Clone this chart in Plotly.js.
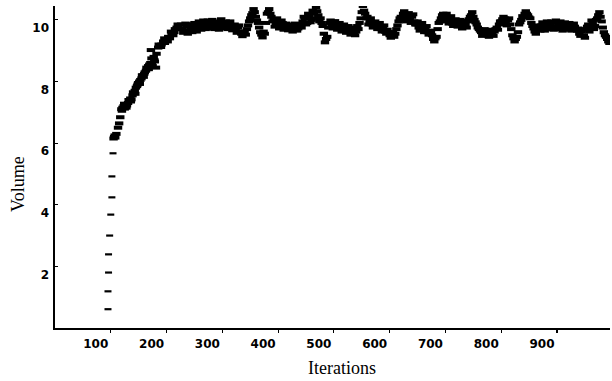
<!DOCTYPE html>
<html>
<head>
<meta charset="utf-8">
<script src="https://cdn.plot.ly/plotly-3.0.1.min.js"></script>
<style>html,body{margin:0;padding:0;background:#fff;}#chart{width:612px;height:381px;}</style>
</head>
<body>
<div id="chart"></div>
<script>
// Early iterations: the sparse vertical column of readings
var startIterations = [95, 95, 96, 96, 98, 100, 102, 102, 104];
var startVolume = [0.61, 1.19, 1.80, 2.39, 3.00, 3.68, 4.24, 4.92, 5.67];

// Later iterations and volume readings
var iterations = [
  105, 106, 107, 108, 110, 113, 115, 117,
  119, 121, 123, 125, 127, 129, 131, 133, 135, 137, 139, 141, 143,
  145, 147, 149, 151, 153, 155, 157, 159, 161, 163, 165, 167, 169,
  171, 172, 173, 175, 177, 179, 181,
  185, 188, 191, 194, 197, 200, 203, 206, 209, 212, 215, 218, 221, 224,
  228, 232, 236, 240, 244, 248, 252, 256, 260,
  264, 268, 272, 276, 280, 284, 288, 292, 296, 300, 304, 308, 312,
  316, 320, 324, 328, 332, 336, 340, 344,
  348, 352, 356, 360, 364, 368, 372, 376, 380, 384, 388,
  392, 396, 400, 404, 408, 412, 416, 420, 424, 428, 432, 436,
  440, 444, 448, 452, 456, 460, 464, 468, 472, 476, 480, 484, 488,
  492, 496, 500, 504, 508, 512, 516, 520, 524, 528, 532, 536, 540, 544,
  548, 552, 556, 560, 564, 568, 572, 576, 580, 584, 588, 592, 596,
  600, 604, 608, 612, 616, 620, 624, 628, 632, 636, 640, 644,
  648, 652, 656, 660, 664, 668, 672, 676, 680, 684,
  688, 692, 696, 700, 704, 708, 712, 716, 720, 724, 728, 732, 736, 740,
  744, 748, 752, 756, 760, 764, 768, 772, 776, 780, 784, 788,
  792, 796, 800, 804, 808, 812, 816, 820, 824, 828,
  832, 836, 840, 844, 848, 852, 856, 860, 864,
  868, 872, 876, 880, 884, 888, 892, 896, 900, 904, 908, 912, 916, 920, 924, 928, 932,
  936, 940, 944, 948, 952, 956, 960, 964, 968, 972, 976, 980, 984, 988, 992, 996
];
var volume = [
  6.15, 6.20, 6.25, 6.18, 6.30, 6.50, 6.64, 6.84,
  7.10, 7.15, 7.20, 7.12, 7.25, 7.22, 7.30, 7.38, 7.45, 7.42, 7.55, 7.62, 7.70,
  7.80, 7.85, 7.95, 8.00, 8.05, 8.10, 8.20, 8.15, 8.30, 8.35, 8.40, 8.50, 8.55,
  8.60, 9.02, 8.75, 8.50, 8.80, 8.65, 8.45,
  9.10, 9.15, 9.20, 9.30, 9.25, 9.35, 9.45, 9.40, 9.55, 9.50, 9.70, 9.75, 9.80, 9.72,
  9.70, 9.62, 9.78, 9.66, 9.72, 9.82, 9.68, 9.75, 9.85,
  9.80, 9.90, 9.75, 9.85, 9.92, 9.78, 9.88, 9.82, 9.76, 9.90, 9.84, 9.78, 9.86,
  9.80, 9.72, 9.68, 9.75, 9.62, 9.47, 9.58, 9.70,
  9.95, 10.15, 10.35, 10.10, 9.90, 9.60, 9.43, 9.55, 10.20, 10.35, 10.10,
  10.00, 9.88, 9.95, 9.82, 9.90, 9.78, 9.72, 9.80, 9.70, 9.75, 9.80, 9.72,
  9.85, 9.95, 10.05, 9.90, 10.10, 10.00, 10.20, 10.40, 10.15, 10.05, 9.80, 9.27, 9.45,
  9.90, 9.82, 9.88, 9.75, 9.80, 9.70, 9.78, 9.65, 9.72, 9.60, 9.68, 9.55, 9.62, 9.70,
  10.05, 10.45, 10.20, 10.10, 9.95, 9.85, 9.90, 9.78, 9.82, 9.70, 9.75, 9.62, 9.68,
  9.50, 9.55, 9.45, 9.70, 9.95, 10.10, 10.20, 10.05, 10.15, 10.00, 10.10, 9.95,
  9.85, 9.75, 9.80, 9.68, 9.72, 9.60, 9.65, 9.50, 9.30, 9.45,
  9.90, 10.05, 10.20, 10.10, 9.95, 10.05, 9.88, 9.95, 9.85, 9.92, 9.80, 9.90, 9.85, 9.95,
  10.10, 10.25, 10.00, 9.85, 9.70, 9.60, 9.55, 9.65, 9.50, 9.60, 9.55, 9.62,
  9.75, 9.85, 9.95, 10.10, 9.90, 9.98, 9.85, 9.50, 9.30, 9.45,
  9.85, 10.00, 10.10, 10.28, 10.15, 10.05, 9.80, 9.62, 9.70,
  9.75, 9.82, 9.72, 9.88, 9.80, 9.85, 9.75, 9.90, 9.78, 9.85, 9.72, 9.80, 9.88, 9.75, 9.82, 9.70, 9.78,
  9.65, 9.55, 9.62, 9.50, 9.70, 9.85, 9.75, 9.90, 9.80, 10.05, 10.25, 9.95, 9.60, 9.45, 9.30, 9.40
];

// Interleaved readings that give the band its spread
var spreadIterations = [
  120, 124, 128, 132, 136, 140, 144, 148, 152, 156, 160, 164, 168, 174, 178, 182, 186, 190, 196, 202, 208, 214, 220,
  226, 230, 234, 238, 242, 246, 250, 254, 258,
  262, 266, 270, 274, 278, 282, 286, 290, 294, 298, 302, 306, 310, 314,
  318, 322, 326, 330, 334, 338, 342, 346,
  350, 354, 358, 362, 366, 370, 374, 378, 382, 386, 390,
  394, 398, 402, 406, 410, 414, 418, 422, 426, 430, 434, 438,
  442, 446, 450, 454, 458, 462, 466, 470, 474, 478, 482, 486, 490,
  494, 498, 502, 506, 510, 514, 518, 522, 526, 530, 534, 538, 542, 546,
  550, 554, 558, 562, 566, 570, 574, 578, 582, 586, 590, 594, 598,
  602, 606, 610, 614, 618, 622, 626, 630, 634, 638, 642, 646,
  650, 654, 658, 662, 666, 670, 674, 678, 682, 686,
  690, 694, 698, 702, 706, 710, 714, 718, 722, 726, 730, 734, 738, 742,
  746, 750, 754, 758, 762, 766, 770, 774, 778, 782, 786, 790,
  794, 798, 802, 806, 810, 814, 818, 822, 826, 830,
  834, 838, 842, 846, 850, 854, 858, 862, 866,
  870, 874, 878, 882, 886, 890, 894, 898, 902, 906, 910, 914, 918, 922, 926, 930, 934,
  938, 942, 946, 950, 954, 958, 962, 966, 970, 974, 978, 982, 986, 990, 994
];
var spreadVolume = [
  7.05, 7.28, 7.15, 7.40, 7.35, 7.65, 7.60, 7.90, 7.92, 8.20, 8.25, 8.45, 8.40, 8.55, 8.70, 8.90, 9.20, 9.12, 9.40, 9.30, 9.62, 9.60, 9.85,
  9.85, 9.58, 9.88, 9.55, 9.86, 9.60, 9.90, 9.62, 9.95,
  9.68, 9.98, 9.70, 9.98, 9.72, 10.00, 9.70, 9.95, 9.68, 10.02, 9.72, 9.95, 9.70, 9.95,
  9.66, 9.85, 9.58, 9.82, 9.55, 9.62, 9.52, 9.82,
  10.05, 10.22, 10.25, 9.98, 9.75, 9.52, 9.62, 9.90, 10.25, 10.20, 9.95,
  9.78, 10.05, 9.72, 9.98, 9.68, 9.88, 9.66, 9.85, 9.62, 9.88, 9.65, 9.82,
  9.75, 10.10, 9.85, 10.20, 9.92, 10.30, 10.05, 10.28, 9.95, 9.90, 9.55, 9.38, 9.75,
  9.98, 9.72, 9.96, 9.68, 9.90, 9.62, 9.85, 9.58, 9.80, 9.52, 9.75, 9.50, 9.80, 9.90,
  10.25, 10.30, 10.05, 9.85, 10.05, 9.75, 9.95, 9.70, 9.90, 9.62, 9.82, 9.55, 9.60,
  9.42, 9.60, 9.55, 9.82, 10.05, 10.00, 10.28, 9.95, 10.22, 9.90, 10.18, 9.85,
  9.95, 9.65, 9.90, 9.60, 9.80, 9.52, 9.58, 9.38, 9.40, 9.70,
  9.95, 10.15, 10.02, 10.20, 9.88, 10.12, 9.80, 10.02, 9.78, 10.00, 9.72, 9.98, 9.75, 10.02,
  10.15, 10.10, 9.92, 9.75, 9.65, 9.48, 9.70, 9.60, 9.45, 9.68, 9.48, 9.70,
  9.68, 9.95, 10.02, 10.05, 9.82, 10.05, 9.70, 9.40, 9.38, 9.60,
  9.92, 10.12, 10.20, 10.20, 10.08, 9.90, 9.72, 9.55, 9.82,
  9.65, 9.92, 9.65, 9.95, 9.70, 9.95, 9.68, 9.98, 9.70, 9.95, 9.65, 9.92, 9.68, 9.90, 9.65, 9.88, 9.68,
  9.72, 9.48, 9.68, 9.42, 9.78, 9.62, 9.98, 9.70, 10.00, 10.15, 10.10, 9.75, 9.50, 9.38, 9.25
];

var xTickVals = [100, 200, 300, 400, 500, 600, 700, 800, 900];
var xTickText = ['100', '200', '300', '400', '500', '600', '700', '800', '900'];
var yTickVals = [2, 4, 6, 8, 10];
var yTickText = ['2', '4', '6', '8', '10'];

var dashMarker = {symbol: 'line-ew', size: 6, color: '#000', line: {color: '#000', width: 4}};

var startTrace = {
  x: startIterations, y: startVolume, type: 'scatter', mode: 'markers',
  marker: {symbol: 'line-ew', size: 5, color: '#000', line: {color: '#000', width: 2.2}},
  hoverinfo: 'skip'
};
var mainTrace = {
  x: iterations, y: volume, type: 'scatter', mode: 'markers',
  marker: dashMarker, hoverinfo: 'skip'
};
var spreadTrace = {
  x: spreadIterations, y: spreadVolume, type: 'scatter', mode: 'markers',
  marker: dashMarker, hoverinfo: 'skip'
};

var tickFont = {family: 'DejaVu Sans', size: 12, color: '#000', weight: 'bold'};

var layout = {
  width: 612,
  height: 381,
  margin: {l: 55, r: 2, t: 6, b: 53},
  paper_bgcolor: '#fff',
  plot_bgcolor: '#fff',
  showlegend: false,
  xaxis: {
    range: [0, 995],
    tickmode: 'array',
    tickvals: xTickVals,
    ticktext: xTickText,
    ticks: 'outside',
    ticklen: 3,
    tickwidth: 1.2,
    tickcolor: '#000',
    tickfont: tickFont,
    ticklabelshift: -15,
    ticklabelstandoff: 1,
    showline: true,
    linecolor: '#000',
    linewidth: 1.6,
    showgrid: false,
    zeroline: false
  },
  yaxis: {
    range: [0, 10.45],
    tickmode: 'array',
    tickvals: yTickVals,
    ticktext: yTickText,
    ticks: 'inside',
    ticklen: 3,
    tickwidth: 1.2,
    tickcolor: '#000',
    tickfont: tickFont,
    ticklabelshift: 8,
    ticklabelstandoff: 2,
    showline: true,
    linecolor: '#000',
    linewidth: 1.6,
    showgrid: false,
    zeroline: false
  },
  annotations: [
    {text: 'Iterations', xref: 'paper', yref: 'paper', x: 0.517, y: -0.124,
     xanchor: 'center', yanchor: 'middle', showarrow: false,
     font: {family: 'Liberation Serif', size: 18, color: '#000'}},
    {text: 'Volume', xref: 'paper', yref: 'paper', x: -0.067, y: 0.447,
     xanchor: 'center', yanchor: 'middle', showarrow: false, textangle: -90,
     font: {family: 'Liberation Serif', size: 18, color: '#000'}}
  ]
};

Plotly.newPlot('chart', [startTrace, mainTrace, spreadTrace], layout, {displayModeBar: false, staticPlot: true});
</script>
</body>
</html>
